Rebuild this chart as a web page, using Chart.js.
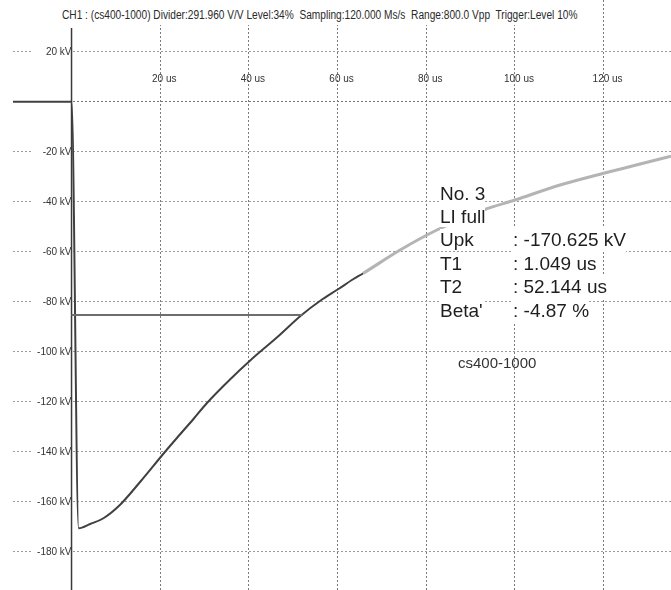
<!DOCTYPE html>
<html lang="en">
<head>
  <meta charset="UTF-8">
  <title>CH1 cs400-1000 LI full</title>
  <script src="https://cdn.jsdelivr.net/npm/chart.js"></script>
  <style>
    body {
      margin: 0;
      background: #fff;
    }
    .wrap {
      position: relative;
      width: 671px;
      height: 590px;
      overflow: hidden;
      font-family: 'Liberation Sans', Arial, sans-serif;
      color: #222;
    }
    canvas {
      position: absolute;
      left: 0;
      top: 0;
    }
    .header {
      position: absolute;
      left: 62px;
      top: 0;
      padding: 9px 3px 4px 0;
      font-size: 12px;
      line-height: 12px;
      white-space: pre;
      background: #fff;
      color: #2a2a2a;
      transform-origin: 0 0;
    }
    .info {
      position: absolute;
      left: 440px;
      top: 181.7px;
      font-size: 19px;
      line-height: 23.4px;
      color: #1e1e1e;
    }
    .info .row { position: relative; height: 23.4px; white-space: pre; }
    .info span { background: #fff; }
    .info .val { position: absolute; left: 73px; }
    .tag {
      position: absolute;
      left: 458px;
      top: 355px;
      font-size: 15px;
      line-height: 15px;
      color: #333;
    }
  </style>
</head>
<body>
  <div class="wrap">
    <canvas id="scope" width="671" height="590"></canvas>
    <div class="header" id="header">CH1 : (cs400-1000) Divider:291.960 V/V Level:34%  Sampling:120.000 Ms/s  Range:800.0 Vpp  Trigger:Level 10%</div>
    <div class="info">
      <div class="row"><span>No. 3</span></div>
      <div class="row"><span>LI full</span></div>
      <div class="row"><span>Upk</span><span class="val">: -170.625 kV</span></div>
      <div class="row"><span>T1</span><span class="val">: 1.049 us</span></div>
      <div class="row"><span>T2</span><span class="val">: 52.144 us</span></div>
      <div class="row"><span>Beta'</span><span class="val">: -4.87 %</span></div>
    </div>
    <div class="tag">cs400-1000</div>
  </div>

  <script>
    const timeUs = [-13.2, 0, 1.6, 4.2, 7.2, 10.9, 15.5, 21.1, 24.5, 27.5, 30.5, 35.8, 40.3, 46.3, 51.9, 56.1, 60.2, 63.5, 65.8,
                    74.1, 82.4, 92.9, 100.0, 110.2, 120.0, 126.7, 135.2];
    const voltageKv = [0, 0, -170.6, -168.9, -166.6, -161.3, -152.0, -140.0, -133.0, -126.9, -120.6, -111.0, -103.5, -94.3, -85.3, -79.6, -74.9, -71.0, -68.6,
                       -59.3, -51.3, -43.3, -39.3, -33.3, -28.6, -25.6, -21.8];

    // half-value marker (Upk / 2 up to T2)
    const halfValueTimes = [0, 52.144];
    const halfValueKv = [-85.3, -85.3];

    const xTickValues = [20, 40, 60, 80, 100, 120];
    const xTickLabels = ['20 us', '40 us', '60 us', '80 us', '100 us', '120 us'];
    const yTickValues = [20, 0, -20, -40, -60, -80, -100, -120, -140, -160, -180];
    const yTickLabels = ['20 kV', '', '-20 kV', '-40 kV', '-60 kV', '-80 kV', '-100 kV', '-120 kV', '-140 kV', '-160 kV', '-180 kV'];

    const fadeFromUs = 65.8;

    const scopeMarks = {
      id: 'scopeMarks',
      beforeDatasetsDraw(chart) {
        const { ctx, chartArea, scales: { x, y } } = chart;
        const x0 = x.getPixelForValue(0);
        ctx.save();
        ctx.font = '10px "Liberation Sans", Arial, sans-serif';
        ctx.textBaseline = 'middle';

        ctx.textAlign = 'right';
        yTickValues.forEach((v, i) => {
          if (!yTickLabels[i]) return;
          const py = y.getPixelForValue(v);
          ctx.fillStyle = '#fff';
          ctx.fillRect(33, py - 5, x0 - 33, 10);
          ctx.fillStyle = '#333';
          ctx.fillText(yTickLabels[i], x0, py);
        });

        ctx.textAlign = 'center';
        const labelY = y.getPixelForValue(9.1);
        xTickValues.forEach((v, i) => {
          ctx.fillText(xTickLabels[i], x.getPixelForValue(v) + 4, labelY);
        });

        // solid time-zero axis
        ctx.strokeStyle = '#3a3a3a';
        ctx.lineWidth = 1.5;
        ctx.beginPath();
        ctx.moveTo(x0, 28);
        ctx.lineTo(x0, chartArea.bottom);
        ctx.stroke();
        ctx.restore();
      }
    };

    new Chart(document.getElementById('scope'), {
      type: 'line',
      data: {
        datasets: [
          {
            label: 'T2 marker',
            data: halfValueTimes.map((t, i) => ({ x: t, y: halfValueKv[i] })),
            borderColor: '#6e6e6e',
            borderWidth: 2,
            pointRadius: 0
          },
          {
            label: 'CH1',
            data: timeUs.map((t, i) => ({ x: t, y: voltageKv[i] })),
            borderColor: '#404040',
            borderWidth: 2,
            pointRadius: 0,
            cubicInterpolationMode: 'monotone',
            segment: {
              borderColor: c => c.p0.parsed.x >= fadeFromUs ? '#b4b4b4' : '#404040',
              borderWidth: c => c.p0.parsed.x >= fadeFromUs ? 3 : 2
            }
          }
        ]
      },
      options: {
        responsive: false,
        animation: false,
        devicePixelRatio: 1,
        layout: { padding: { left: 13, top: 0, right: 0, bottom: 0 } },
        plugins: {
          legend: { display: false },
          tooltip: { enabled: false }
        },
        scales: {
          x: {
            type: 'linear',
            min: -13.2,
            max: 135.2,
            afterBuildTicks: s => { s.ticks = xTickValues.map(v => ({ value: v })); },
            ticks: { display: false },
            border: { display: false, dash: [2, 2] },
            grid: {
              drawTicks: false,
              color: '#7a7a7a',
              lineWidth: 1
            }
          },
          y: {
            type: 'linear',
            min: -195.3,
            max: 40.7,
            afterBuildTicks: s => { s.ticks = yTickValues.map(v => ({ value: v })); },
            ticks: { display: false },
            border: { display: false, dash: [2, 2] },
            grid: {
              drawTicks: false,
              color: c => c.tick && c.tick.value === 0 ? '#777' : '#9c9c9c',
              lineWidth: 1
            }
          }
        }
      },
      plugins: [scopeMarks]
    });

    // the scope print uses a condensed face for the header line
    const header = document.getElementById('header');
    header.style.transform = 'scaleX(' + (518 / header.getBoundingClientRect().width) + ')';
  </script>
</body>
</html>
